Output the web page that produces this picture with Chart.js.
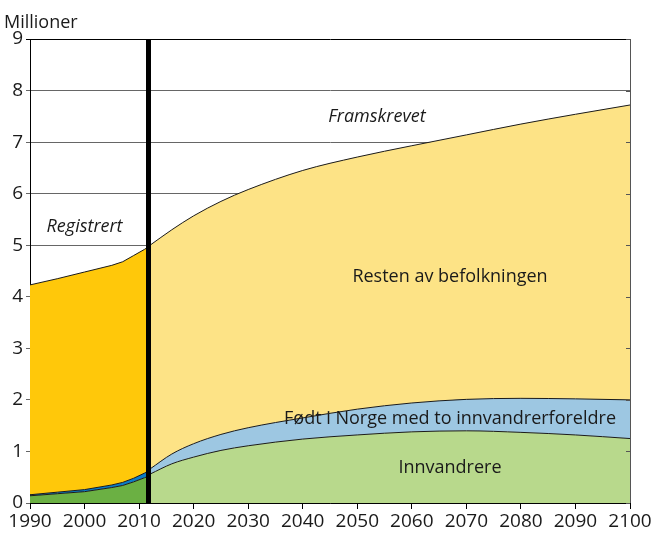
<!DOCTYPE html>
<html>
<head>
<meta charset="utf-8">
<script src="https://cdn.jsdelivr.net/npm/chart.js@4"></script>
<style>
  html, body { margin: 0; padding: 0; background: #fff; }
  #wrap { width: 654px; height: 533px; }
</style>
</head>
<body>
<div id="wrap"><canvas id="popChart" width="654" height="533"></canvas></div>
<script>
// ==============================
// DATA (millioner)
// ==============================
const regYears  = [1990, 1995, 2000, 2005, 2007, 2009, 2011, 2012];
const regImm    = [0.14, 0.18, 0.22, 0.30, 0.34, 0.41, 0.49, 0.53];
const regBorn   = [0.02, 0.03, 0.04, 0.05, 0.06, 0.07, 0.09, 0.10];
const regRest   = [4.07, 4.14, 4.22, 4.26, 4.28, 4.32, 4.34, 4.36];

const projYears = [2012, 2016, 2020, 2025, 2030, 2040, 2050, 2060, 2070, 2080, 2090, 2100];
const projImm   = [0.56, 0.76, 0.89, 1.02, 1.11, 1.24, 1.32, 1.38, 1.40, 1.37, 1.32, 1.25];
const projBorn  = [0.10, 0.19, 0.26, 0.31, 0.35, 0.41, 0.50, 0.56, 0.61, 0.66, 0.70, 0.75];
const projRest  = [4.34, 4.35, 4.42, 4.52, 4.62, 4.80, 4.89, 4.99, 5.13, 5.32, 5.52, 5.72];

const xTicks = [1990, 2000, 2010, 2020, 2030, 2040, 2050, 2060, 2070, 2080, 2090, 2100];
const yTicks = [0, 1, 2, 3, 4, 5, 6, 7, 8, 9];
const splitYear = 2012;

const FONT = "'Open Sans', sans-serif";

// ==============================
// HELPERS
// ==============================
function pts(xs, ys){
    return xs.map((x, i) => ({ x: x, y: ys[i] }));
}

function area(label, xs, ys, stack, color, fill, smooth){
    return {
        label: label,
        data: pts(xs, ys),
        stack: stack,
        fill: fill,
        backgroundColor: color,
        borderColor: "#1a1a1a",
        borderWidth: 1,
        pointRadius: 0,
        tension: smooth ? 0.4 : 0,
        cubicInterpolationMode: smooth ? "monotone" : "default"
    };
}

// ==============================
// PLUGIN: labels, split line, right border
// ==============================
const decorPlugin = {
    id: "decor",
    afterDatasetsDraw(chart){
        const c = chart.ctx;
        const xs = chart.scales.x;
        const ys = chart.scales.y;
        const a = chart.chartArea;

        // -- right border with inward ticks --
        c.save();
        c.strokeStyle = "#555";
        c.lineWidth = 1;
        c.beginPath();
        c.moveTo(a.right + 0.5, a.top);
        c.lineTo(a.right + 0.5, a.bottom);
        yTicks.forEach(v => {
            const py = Math.round(ys.getPixelForValue(v)) + 0.5;
            c.moveTo(a.right, py);
            c.lineTo(a.right - 4, py);
        });
        c.stroke();

        // -- split line --
        const sx = xs.getPixelForValue(splitYear) - 1.5;
        c.strokeStyle = "#000";
        c.lineWidth = 5;
        c.beginPath();
        c.moveTo(sx, a.top);
        c.lineTo(sx, a.bottom);
        c.stroke();

        // -- area labels --
        c.fillStyle = "#1a1a1a";
        c.textAlign = "center";
        c.textBaseline = "middle";
        c.font = "18px " + FONT;
        const put = (t, x, y) => c.fillText(t, xs.getPixelForValue(x), ys.getPixelForValue(y));
        put("Resten av befolkningen", 2067, 4.39);
        put("Født i Norge med to innvandrerforeldre", 2067, 1.64);
        put("Innvandrere", 2067, 0.69);
        c.font = "italic 18px " + FONT;
        put("Framskrevet", 2053.6, 7.48);
        put("Registrert", 2000, 5.36);

        // -- unit title --
        c.font = "18px " + FONT;
        c.textAlign = "left";
        c.textBaseline = "alphabetic";
        c.fillText("Millioner", 4, 28);
        c.restore();
    }
};

// ==============================
// CHART
// ==============================
const ctx = document.getElementById("popChart").getContext("2d");

new Chart(ctx, {
    type: "line",
    data: {
        datasets: [
            area("Innvandrere reg", regYears, regImm, "reg", "rgb(107,176,67)", "origin", false),
            area("Født i Norge reg", regYears, regBorn, "reg", "rgb(10,125,200)", "-1", false),
            area("Resten reg", regYears, regRest, "reg", "rgb(255,200,10)", "-1", false),
            area("Innvandrere", projYears, projImm, "proj", "rgb(184,217,140)", "origin", true),
            area("Født i Norge", projYears, projBorn, "proj", "rgb(157,199,226)", "-1", true),
            area("Resten", projYears, projRest, "proj", "rgb(253,227,134)", "-1", true)
        ]
    },
    options: {
        responsive: false,
        animation: false,
        layout: { padding: { top: 39, right: 24, left: 0, bottom: 0 } },
        plugins: {
            legend: { display: false },
            tooltip: { enabled: false }
        },
        scales: {
            x: {
                type: "linear",
                min: 1990,
                max: 2100,
                afterBuildTicks: s => { s.ticks = xTicks.map(v => ({ value: v })); },
                afterFit: s => { s.height = 30; },
                grid: { drawOnChartArea: false, drawTicks: true, tickLength: 6, color: "#000" },
                border: { color: "#000", width: 1 },
                ticks: {
                    color: "#1a1a1a",
                    padding: 1,
                    maxRotation: 0,
                    autoSkip: false,
                    font: { family: FONT, size: 19 },
                    callback: v => String(v)
                }
            },
            y: {
                stacked: true,
                min: 0,
                max: 9,
                afterBuildTicks: s => { s.ticks = yTicks.map(v => ({ value: v })); },
                afterFit: s => { s.width = 30; },
                grid: {
                    color: c => c.tick && c.tick.value === 9 ? "#000" : "#666",
                    lineWidth: 1,
                    drawTicks: true,
                    tickLength: 4
                },
                border: { color: "#000", width: 1 },
                ticks: {
                    color: "#1a1a1a",
                    padding: 3,
                    font: { family: FONT, size: 19 }
                }
            }
        }
    },
    plugins: [decorPlugin]
});
</script>
</body>
</html>
